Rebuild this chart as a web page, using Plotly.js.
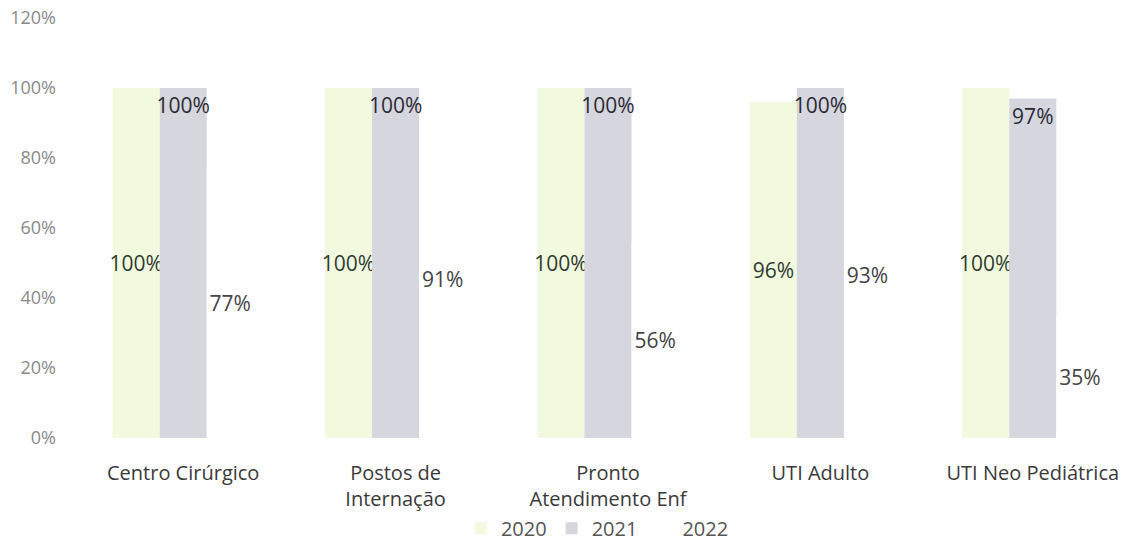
<!DOCTYPE html>
<html>
<head>
<meta charset="utf-8">
<script src="https://cdn.plot.ly/plotly-3.0.1.min.js"></script>
<style>html,body{margin:0;padding:0;background:#fff;}#chart{width:1141px;height:546px;}</style>
</head>
<body>
<div id="chart"></div>
<script>
const categories = ["Centro Cirúrgico", "Postos de<br>Internação", "Pronto<br>Atendimento Enf", "UTI Adulto", "UTI Neo Pediátrica"];
const seriesNames = ["2020", "2021", "2022"];
const values2020 = [1.00, 1.00, 1.00, 0.96, 1.00];
const values2021 = [1.00, 1.00, 1.00, 1.00, 0.97];
const values2022 = [0.77, 0.91, 0.56, 0.93, 0.35];
const yTicks = [0, 0.2, 0.4, 0.6, 0.8, 1.0, 1.2];

const FONT = "Open Sans, Noto Sans, sans-serif";
const common = {
  type: "bar",
  x: categories,
  texttemplate: "%{y:.0%}",
  textposition: "inside",
  textangle: 0,
  constraintext: "none",
  cliponaxis: false,
  hoverinfo: "skip"
};
const traces = [
  Object.assign({}, common, {
    name: seriesNames[0], y: values2020,
    marker: {color: "#F1FADF"},
    insidetextanchor: "middle",
    textfont: {family: FONT, size: 21, color: "#2f3a2f"}
  }),
  Object.assign({}, common, {
    name: seriesNames[1], y: values2021,
    marker: {color: "#D6D6DF"},
    insidetextanchor: "end",
    textfont: {family: FONT, size: 21, color: "#2a2a33"}
  }),
  Object.assign({}, common, {
    name: seriesNames[2], y: values2022,
    marker: {color: "#FFFFFF"},
    insidetextanchor: "middle",
    textfont: {family: FONT, size: 21, color: "#444444"}
  })
];

const layout = {
  width: 1141, height: 546,
  margin: {l: 77, r: 2, t: 18, b: 108, autoexpand: false},
  paper_bgcolor: "#fff", plot_bgcolor: "#fff",
  barmode: "group",
  bargap: 0.335, bargroupgap: 0,
  font: {family: FONT},
  showlegend: true,
  legend: {
    orientation: "h", x: 0.49, xanchor: "center", y: -0.215, yanchor: "middle",
    bgcolor: "rgba(0,0,0,0)",
    font: {family: FONT, size: 20, color: "#555"},
    traceorder: "normal"
  },
  xaxis: {
    automargin: false,
    showgrid: false, showline: false, zeroline: false, ticks: "",
    tickfont: {family: FONT, size: 20, color: "#3a3a3a"},
    ticklabelstandoff: 21
  },
  yaxis: {
    automargin: false,
    range: [0, 1.2], tickvals: yTicks, tickformat: ".0%",
    showgrid: false, showline: false, zeroline: false, ticks: "",
    tickfont: {family: FONT, size: 18, color: "#8a8a8a"},
    ticklabelstandoff: 20
  }
};
Plotly.newPlot("chart", traces, layout, {staticPlot: true, displayModeBar: false});
</script>
</body>
</html>
